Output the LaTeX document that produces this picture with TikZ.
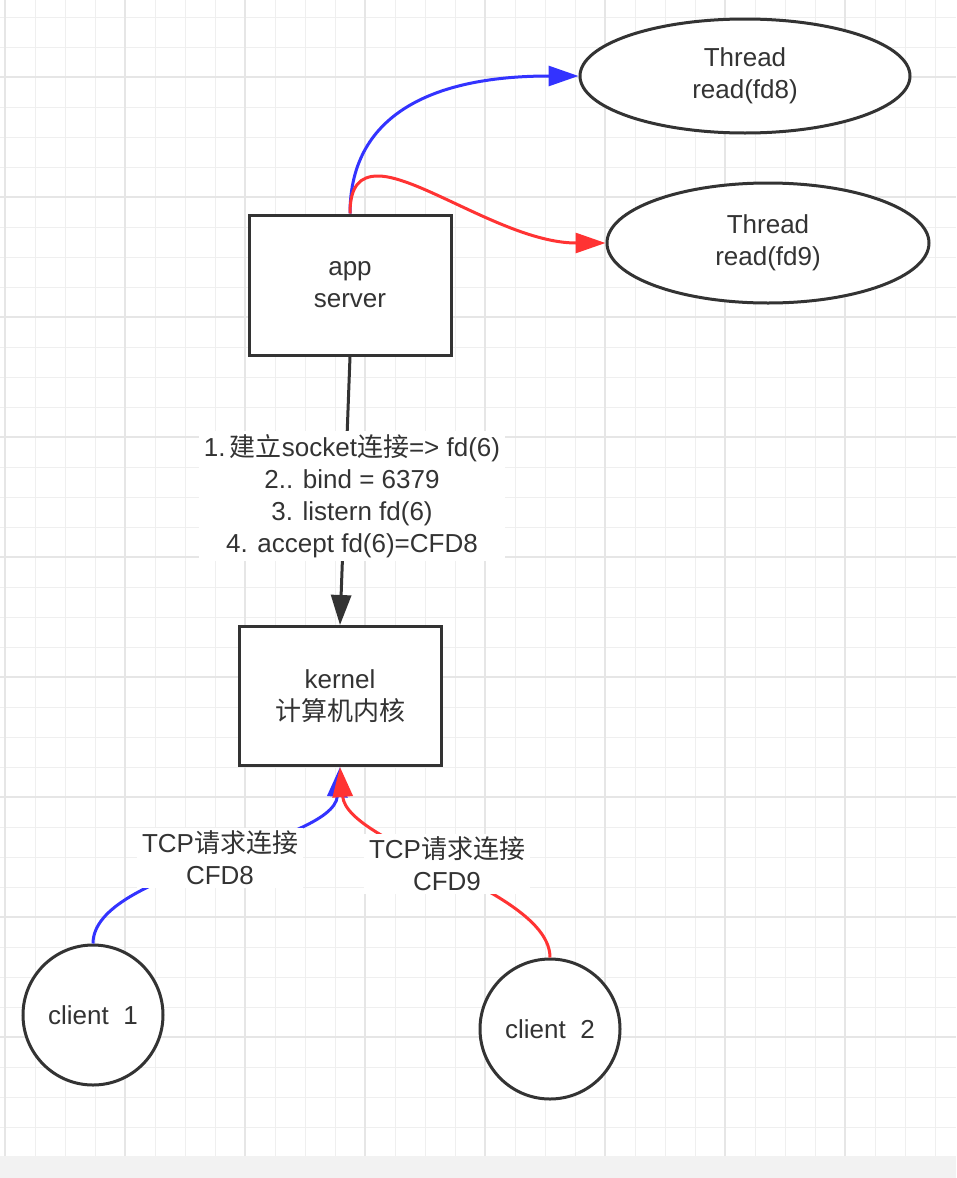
\documentclass[tikz,border=0pt]{standalone}
\usepackage{fontspec}
\setmainfont{Liberation Sans}
\newfontfamily\cjk{Noto Sans CJK SC}
\usetikzlibrary{arrows.meta,shapes.geometric}
\definecolor{ink}{HTML}{333333}
\definecolor{minorgridc}{HTML}{EFEFEF}
\definecolor{majorgridc}{HTML}{E6E6E6}
\definecolor{bandc}{HTML}{F2F2F2}
\definecolor{eblue}{HTML}{3333FF}
\definecolor{ered}{HTML}{FF3333}
\tikzset{
  minorgrid/.style={draw=minorgridc, line width=1pt},
  majorgrid/.style={draw=majorgridc, line width=1.2pt},
  txt/.style={text=ink, align=center, font=\fontsize{26}{32}\selectfont},
  boxnode/.style={txt, draw=ink, fill=white, line width=3pt, rectangle, inner sep=0pt},
  ellnode/.style={txt, draw=ink, fill=white, line width=3pt, ellipse, inner sep=0pt},
  circnode/.style={txt, draw=ink, fill=white, line width=3pt, circle, inner sep=0pt, minimum size=140pt},
  lbl/.style={txt, fill=white, inner xsep=5pt, inner ysep=3pt},
  tip/.style={-{Triangle[length=30pt,width=20pt]}},
  blueedge/.style={tip, draw=eblue, line width=3pt},
  rededge/.style={tip, draw=ered, line width=3pt},
  blackedge/.style={tip, draw=ink, line width=3pt}
}
\begin{document}
\begin{tikzpicture}[x=1pt,y=-1pt]
\useasboundingbox (0,0) rectangle (956,1178);
\fill[white] (0,0) rectangle (956,1156);
\fill[bandc] (0,1156) rectangle (956,1178);
% grid
\foreach \x in {35,65,95,155,185,215,275,305,335,395,425,455,515,545,575,635,665,695,755,785,815,875,905,935}
  \draw[minorgrid] (\x,0) -- (\x,1156);
\foreach \y in {17,47,107,137,167,227,257,287,347,377,407,467,497,527,587,617,647,707,737,767,827,857,887,947,977,1007,1067,1097,1127}
  \draw[minorgrid] (0,\y) -- (956,\y);
\foreach \x in {5,125,245,365,485,605,725,845}
  \draw[majorgrid] (\x,0) -- (\x,1156);
\foreach \y in {77,197,317,437,557,677,797,917,1037}
  \draw[majorgrid] (0,\y) -- (956,\y);

% nodes
\node[boxnode, minimum width=202pt, minimum height=140pt] (app) at (350,285) {app\\server};
\node[boxnode, minimum width=202pt, minimum height=139pt] (kernel) at (340,696) {kernel\\{\cjk 计算机内核}};
\node[ellnode, minimum width=330pt, minimum height=114pt] (fd8) at (745,76) {Thread\\read(fd8)};
\node[ellnode, minimum width=322pt, minimum height=120pt] (fd9) at (768,243) {Thread\\read(fd9)};
\node[circnode] (c1) at (93,1015) {client\ \ 1};
\node[circnode] (c2) at (550,1029) {client\ \ 2};

% edges
\draw[blueedge] (app.north) .. controls (350,110) and (440,76) .. (fd8.west);
\draw[rededge] (app.north) .. controls (350,186) and (360,176) .. (378,176)
   .. controls (420,176) and (510,243) .. (fd9.west);
\draw[blackedge] (app.south) -- (kernel.north);
\draw[blueedge] (c1.north) .. controls (93,870) and (333,845) .. (kernel.south);
\draw[rededge] (c2.north) .. controls (550,890) and (347,845) .. (kernel.south);

% labels
\node[lbl] (l1) at (352,496) {1.\,{\cjk 建立}socket{\cjk 连接}=> fd(6)\\2.. bind = 6379\\3. listern fd(6)\\4. accept fd(6)=CFD8};
\node[lbl] (l8) at (220,858) {TCP{\cjk 请求连接}\\CFD8};
\node[lbl] (l9) at (447,864) {TCP{\cjk 请求连接}\\CFD9};
\end{tikzpicture}
\end{document}
